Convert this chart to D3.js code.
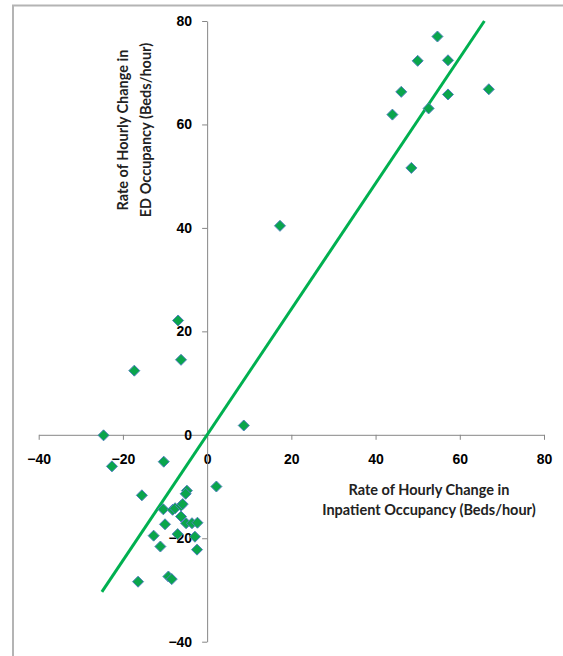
<!DOCTYPE html>
<html lang="en">
  <head>
    <meta charset="UTF-8" />
    <title>ED vs Inpatient Occupancy</title>
    <script src="https://d3js.org/d3.v7.min.js"></script>
    <style>
      body {
        margin: 0;
        background: #fff;
        font-family: "Lato", "Liberation Sans", sans-serif;
      }
      .tick text {
        font-weight: 900;
        font-size: 14px;
        fill: #000;
      }
      .axis-title {
        font-weight: bold;
        font-size: 14.5px;
        fill: #222;
      }
    </style>
  </head>
  <body>
    <div id="chart"></div>
    <script>
      // inpatient rate (x) and ED rate (y), beds/hour
      const inpatient = [
        54.7, 50.0, 57.2, 46.1, 57.2, 66.9, 52.6, 44.0, 48.5, 17.3,
        -6.9, -6.2, -17.3, -24.6, -22.6, -10.3, 8.7,
        -15.5, -4.8, -5.1, 2.2, -10.4, -8.2, -7.6, -6.2, -5.8, -6.2,
        -5.0, -3.6, -2.3, -10.0, -12.7, -7.0, -2.9, -11.1, -2.4,
        -16.4, -9.2, -8.4,
      ];
      const edRate = [
        77.0, 72.3, 72.4, 66.3, 65.8, 66.8, 63.1, 61.9, 51.6, 40.4,
        22.1, 14.5, 12.4, -0.1, -6.1, -5.2, 1.8,
        -11.7, -10.8, -11.4, -10.0, -14.4, -14.5, -14.2, -13.7, -13.4, -15.8,
        -17.1, -17.1, -17.0, -17.3, -19.5, -19.2, -19.7, -21.6, -22.2,
        -28.4, -27.4, -27.9,
      ];
      const xTicks = [-40, -20, 0, 20, 40, 60, 80];
      const yTicks = [-40, -20, 0, 20, 40, 60, 80];
      // linear trend line
      const trendSlope = 1.215;
      const trendIntercept = 0;
      const trendFrom = -25;

      const W = 563,
        H = 656;

      const svg = d3
        .select("#chart")
        .append("svg")
        .attr("width", W)
        .attr("height", H);

      // chart frame (runs off the right / bottom edge)
      svg
        .append("path")
        .attr("d", `M13,${H + 5} V5.5 H${W + 5}`)
        .attr("fill", "none")
        .attr("stroke", "#b4b4b4")
        .attr("stroke-width", 2);

      const x = d3.scaleLinear().domain([-40, 80]).range([38.7, 544]);
      const y = d3.scaleLinear().domain([-40, 80]).range([641.7, 21]);

      // x axis through y = 0
      const xAxis = svg
        .append("g")
        .attr("transform", `translate(0,${y(0)})`)
        .call(
          d3.axisBottom(x).tickValues(xTicks).tickSize(5).tickSizeOuter(0).tickPadding(10)
        );

      // y axis through x = 0
      const yAxis = svg
        .append("g")
        .attr("transform", `translate(${x(0)},0)`)
        .call(
          d3.axisLeft(y).tickValues(yTicks).tickSize(5).tickSizeOuter(0).tickPadding(10)
        );

      [xAxis, yAxis].forEach((g) => {
        g.select(".domain").attr("stroke", "#868686");
        g.selectAll(".tick line").attr("stroke", "#868686");
      });
      xAxis.selectAll(".tick text").attr("dy", "1.05em");

      // trend line
      const trendTo = (y.domain()[1] - trendIntercept) / trendSlope;
      svg
        .append("line")
        .attr("x1", x(trendFrom))
        .attr("y1", y(trendSlope * trendFrom + trendIntercept))
        .attr("x2", x(trendTo))
        .attr("y2", y(trendSlope * trendTo + trendIntercept))
        .attr("stroke", "#00b050")
        .attr("stroke-width", 3);

      // diamond markers
      const pts = inpatient.map((v, i) => ({ x: v, y: edRate[i] }));
      svg
        .append("g")
        .selectAll("path")
        .data(pts)
        .join("path")
        .attr("transform", (d) => `translate(${x(d.x)},${y(d.y)})`)
        .attr("d", "M0,-5.5L5.5,0L0,5.5L-5.5,0Z")
        .attr("fill", "#0aa54c")
        .attr("stroke", "#4f81bd")
        .attr("stroke-width", 1);

      // axis titles
      const yt = svg
        .append("text")
        .attr("class", "axis-title")
        .attr("text-anchor", "middle")
        .attr("transform", "translate(128,130) rotate(-90)");
      yt.append("tspan").attr("x", 0).attr("y", 0).text("Rate of Hourly Change in");
      yt.append("tspan").attr("x", 0).attr("y", 23).text("ED Occupancy (Beds/hour)");

      const xt = svg
        .append("text")
        .attr("class", "axis-title")
        .attr("text-anchor", "middle");
      xt.append("tspan").attr("x", 429).attr("y", 495).text("Rate of Hourly Change in");
      xt.append("tspan").attr("x", 429).attr("y", 515).text("Inpatient Occupancy (Beds/hour)");
    </script>
  </body>
</html>
